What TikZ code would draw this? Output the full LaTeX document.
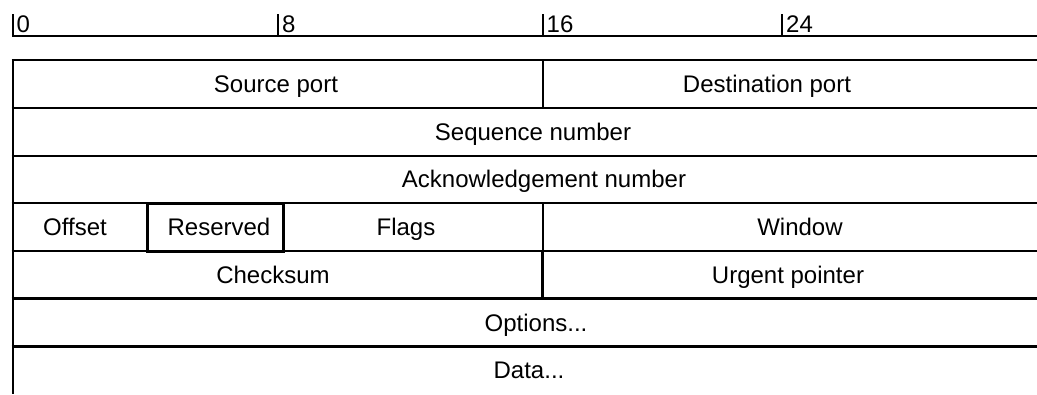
\documentclass[tikz,border=0pt]{standalone}
\usepackage{fontspec}
\setmainfont{Liberation Sans}
\begin{document}
\begin{tikzpicture}[x=1pt,y=-1pt,
  thinline/.style={line width=2pt},
  thickline/.style={line width=3pt},
  lbl/.style={anchor=base,inner sep=0pt,font=\fontsize{24}{28}\selectfont},
  rl/.style={anchor=base west,inner sep=0pt,font=\fontsize{24}{28}\selectfont}]
\useasboundingbox (0,0) rectangle (1037,394);
% ruler
\draw[thinline] (12,36) -- (1037,36);
\foreach \x/\t/\n in {12.5/0/r0, 278/8/r8, 542.5/16/r16, 782/24/r24} {
  \draw[thinline] (\x,14) -- (\x,37);
  \node[rl] (\n) at (\x+4,32.5) {\t};
}
% table lines
\draw[thinline] (12.5,59) -- (12.5,394);
\foreach \y in {60,107.75,155.5,203.25,251} {
  \draw[thinline] (11.5,\y) -- (1037,\y);
}
\foreach \y in {298.75,346.5} {
  \draw[thickline] (11.5,\y) -- (1037,\y);
}
\draw[thinline] (542.5,60) -- (542.5,107.75);
\draw[thinline] (542.5,203.25) -- (542.5,251);
\draw[thickline] (542.5,251) -- (542.5,298.75);
\draw[thickline] (147.5,203.25) rectangle (283,251);
% labels
\node[lbl] (src) at (276,92.4) {Source port};
\node[lbl] (dst) at (767,92.4) {Destination port};
\node[lbl] (seq) at (533,140.1) {Sequence number};
\node[lbl] (ack) at (544,187.9) {Acknowledgement number};
\node[lbl] (off) at (75,235.6) {Offset};
\node[lbl] (res) at (219,235.6) {Reserved};
\node[lbl] (flg) at (406,235.6) {Flags};
\node[lbl] (win) at (800,235.6) {Window};
\node[lbl] (chk) at (273,283.4) {Checksum};
\node[lbl] (urg) at (788,283.4) {Urgent pointer};
\node[lbl] (opt) at (536,331.1) {Options...};
\node[lbl] (dat) at (529,378.9) {Data...};
\end{tikzpicture}
\end{document}
